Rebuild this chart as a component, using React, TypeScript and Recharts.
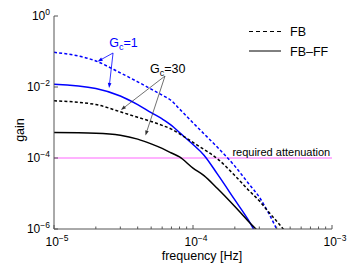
import React from "react";
import {
  LineChart,
  Line,
  XAxis,
  YAxis,
  Legend,
  ReferenceLine,
  ReferenceDot,
  Label,
} from "recharts";

// frequency grid [Hz] and gain of each controller setup
const freq = [1e-5, 2e-5, 3e-5, 4e-5, 5e-5, 6e-5, 7e-5, 8e-5, 1e-4, 1.2e-4, 1.5e-4, 2e-4, 2.5e-4, 3e-4, 3.5e-4, 4e-4, 4.5e-4];
const fbGc1 = [9.5e-2, 5.4e-2, 2.5e-2, 1.4e-2, 8.7e-3, 5.9e-3, 4.1e-3, 2.4e-3, 9.8e-4, 4.8e-4, 2.0e-4, 5.9e-5, 1.95e-5, 7.9e-6, 2.8e-6, 1.0e-6, 4e-7];
const fbffGc1 = [1.2e-2, 9.1e-3, 5.6e-3, 3.2e-3, 1.9e-3, 1.26e-3, 8.3e-4, 5.2e-4, 2.4e-4, 1.2e-4, 3.5e-5, 6.6e-6, 1.8e-6, 5e-7, null, null, null];
const fbGc30 = [4.1e-3, 3.2e-3, 2.0e-3, 1.4e-3, 1.07e-3, 8.3e-4, 6.5e-4, 4.8e-4, 2.75e-4, 1.74e-4, 9.5e-5, 3.2e-5, 1.26e-5, 6.2e-6, 3.0e-6, 1.66e-6, 9.5e-7];
const fbffGc30 = [5.2e-4, 5.0e-4, 4.4e-4, 3.4e-4, 2.5e-4, 1.86e-4, 1.38e-4, 1.07e-4, 5.2e-5, 3.2e-5, 1.38e-5, 4.3e-6, 1.66e-6, 8e-7, null, null, null];

const requiredAttenuation = 1e-4;

// ticks
const xMajor = [1e-5, 1e-4, 1e-3];
const xMajorExp = ["\u22125", "\u22124", "\u22123"];
const xMinor = [2e-5, 3e-5, 4e-5, 5e-5, 6e-5, 7e-5, 8e-5, 9e-5, 2e-4, 3e-4, 4e-4, 5e-4, 6e-4, 7e-4, 8e-4, 9e-4];
const yMajor = [1, 1e-2, 1e-4, 1e-6];
const yMajorExp = ["0", "\u22122", "\u22124", "\u22126"];

const data = freq.map((f, i) => ({
  f,
  fbGc1: fbGc1[i],
  fbffGc1: fbffGc1[i],
  fbGc30: fbGc30[i],
  fbffGc30: fbffGc30[i],
}));

const FONT = '"Liberation Sans", Arial, Helvetica, sans-serif';
const AXIS = "#555";
const BLUE = "#0000ff";

function BottomTick(props: any) {
  const { x, y, payload } = props;
  const i = xMajor.indexOf(payload.value);
  const len = i >= 0 ? 4 : 2.5;
  return (
    <g>
      <line x1={x} x2={x} y1={y} y2={y - len} stroke={AXIS} />
      {i >= 0 && (
        <text x={x + 3} y={y + 17} textAnchor="middle" fontSize={12} fill="#000" fontFamily={FONT}>
          10
          <tspan dy={-5} fontSize={8.5}>
            {xMajorExp[i]}
          </tspan>
        </text>
      )}
    </g>
  );
}

function TopTick(props: any) {
  const { x, y, payload } = props;
  const len = xMajor.includes(payload.value) ? 4 : 2.5;
  return <line x1={x} x2={x} y1={y} y2={y + len} stroke={AXIS} />;
}

function LeftTick(props: any) {
  const { x, y, payload } = props;
  const i = yMajor.indexOf(payload.value);
  return (
    <g>
      <line x1={x} x2={x + 4} y1={y} y2={y} stroke={AXIS} />
      <text x={x - 4} y={y + 4} textAnchor="end" fontSize={12} fill="#000" fontFamily={FONT}>
        10
        <tspan dy={-5} fontSize={8.5}>
          {yMajorExp[i]}
        </tspan>
      </text>
    </g>
  );
}

function RightTick(props: any) {
  const { x, y } = props;
  return <line x1={x} x2={x - 4} y1={y} y2={y} stroke={AXIS} />;
}

function arrow(color: string, width: number) {
  return (p: any) => {
    const { x1, y1, x2, y2 } = p;
    const a = Math.atan2(y2 - y1, x2 - x1);
    const L = 5;
    const W = 1.8;
    const bx = x2 - L * Math.cos(a);
    const by = y2 - L * Math.sin(a);
    const pts = `${x2},${y2} ${bx - W * Math.sin(a)},${by + W * Math.cos(a)} ${bx + W * Math.sin(a)},${by - W * Math.cos(a)}`;
    return (
      <g>
        <line x1={x1} y1={y1} x2={bx} y2={by} stroke={color} strokeWidth={width} />
        <polygon points={pts} fill={color} />
      </g>
    );
  };
}

function gcText(value: string, color: string) {
  return (p: any) => (
    <text x={p.cx} y={p.cy} fontSize={12.5} fill={color} fontFamily={FONT}>
      G
      <tspan dy={3} fontSize={9}>
        c
      </tspan>
      <tspan dy={-3} fontSize={12.5}>
        {"=" + value}
      </tspan>
    </text>
  );
}

function LegendBox() {
  return (
    <svg width={95} height={42} style={{ display: "block" }}>
      <line x1={4} x2={36} y1={9.5} y2={9.5} stroke="#000" strokeDasharray="4 3" />
      <text x={45} y={14} fontSize={12.5} fontFamily={FONT}>
        FB
      </text>
      <line x1={4} x2={36} y1={29} y2={29} stroke="#000" />
      <text x={45} y={33.5} fontSize={12.5} fontFamily={FONT}>
        FB{"\u2013"}FF
      </text>
    </svg>
  );
}

export default function App() {
  return (
    <div style={{ position: "absolute", left: 0, top: 0, width: 349, height: 271, background: "#fff" }}>
      <LineChart
        width={349}
        height={271}
        data={data}
        margin={{ top: 16, right: 17, left: 0, bottom: 0 }}
        style={{ fontFamily: FONT }}
      >
        <XAxis
          dataKey="f"
          type="number"
          scale="log"
          domain={[1e-5, 1e-3]}
          allowDataOverflow
          ticks={[...xMajor, ...xMinor]}
          interval={0}
          tick={<BottomTick />}
          tickLine={false}
          tickSize={0}
          tickMargin={0}
          height={42}
          axisLine={{ stroke: AXIS }}
        >
          <Label
            content={() => (
              <text x={202} y={259.5} textAnchor="middle" fontSize={12.5} fontFamily={FONT} fill="#000">
                frequency [Hz]
              </text>
            )}
          />
        </XAxis>
        <XAxis
          xAxisId="top"
          orientation="top"
          dataKey="f"
          type="number"
          scale="log"
          domain={[1e-5, 1e-3]}
          allowDataOverflow
          ticks={[...xMajor, ...xMinor]}
          interval={0}
          tick={<TopTick />}
          tickLine={false}
          tickSize={0}
          tickMargin={0}
          height={0}
          axisLine={{ stroke: AXIS }}
        />
        <YAxis
          type="number"
          scale="log"
          domain={[1e-6, 1]}
          allowDataOverflow
          ticks={yMajor}
          interval={0}
          tick={<LeftTick />}
          tickLine={false}
          tickSize={0}
          tickMargin={0}
          width={54}
          axisLine={{ stroke: AXIS }}
        >
          <Label
            content={() => (
              <text
                x={24}
                y={130}
                transform="rotate(-90 24 130)"
                textAnchor="middle"
                fontSize={12.5}
                fontFamily={FONT}
                fill="#000"
              >
                gain
              </text>
            )}
          />
        </YAxis>
        <YAxis
          yAxisId="right"
          orientation="right"
          type="number"
          scale="log"
          domain={[1e-6, 1]}
          allowDataOverflow
          ticks={yMajor}
          interval={0}
          tick={<RightTick />}
          tickLine={false}
          tickSize={0}
          tickMargin={0}
          width={0}
          axisLine={{ stroke: AXIS }}
        />

        <ReferenceLine y={requiredAttenuation} stroke="#ff66ff" strokeWidth={1} />
        <ReferenceDot
          x={1.92e-4}
          y={requiredAttenuation}
          r={0}
          shape={(p: any) => (
            <text x={p.cx} y={p.cy - 2.5} fontSize={11} fontFamily={FONT} fill="#000">
              required attenuation
            </text>
          )}
        />

        <Line type="monotone" dataKey="fbGc1" stroke={BLUE} strokeWidth={1.5} strokeDasharray="3 2.2" dot={false} isAnimationActive={false} />
        <Line type="monotone" dataKey="fbffGc1" stroke={BLUE} strokeWidth={1.5} dot={false} isAnimationActive={false} />
        <Line type="monotone" dataKey="fbGc30" stroke="#000" strokeWidth={1.5} strokeDasharray="3 2.2" dot={false} isAnimationActive={false} />
        <Line type="monotone" dataKey="fbffGc30" stroke="#000" strokeWidth={1.5} dot={false} isAnimationActive={false} />

        {/* annotations */}
        <ReferenceLine segment={[{ x: 2.66e-5, y: 0.0908 }, { x: 2.06e-5, y: 0.0523 }]} shape={arrow(BLUE, 0.8)} />
        <ReferenceLine segment={[{ x: 2.66e-5, y: 0.0908 }, { x: 2.49e-5, y: 9.4e-3 }]} shape={arrow(BLUE, 0.8)} />
        <ReferenceDot x={2.5e-5} y={0.136} r={0} shape={gcText("1", BLUE)} />

        <ReferenceLine segment={[{ x: 6.29e-5, y: 0.0204 }, { x: 3.03e-5, y: 2.25e-3 }]} shape={arrow("#333", 0.7)} />
        <ReferenceLine segment={[{ x: 6.29e-5, y: 0.0204 }, { x: 4.55e-5, y: 4.3e-4 }]} shape={arrow("#333", 0.7)} />
        <ReferenceDot x={4.91e-5} y={0.0253} r={0} shape={gcText("30", "#000")} />

        <Legend
          layout="horizontal"
          verticalAlign="middle"
          align="center"
          wrapperStyle={{ left: 245, top: 22, width: 95, height: 42 }}
          content={() => <LegendBox />}
        />
      </LineChart>
    </div>
  );
}
